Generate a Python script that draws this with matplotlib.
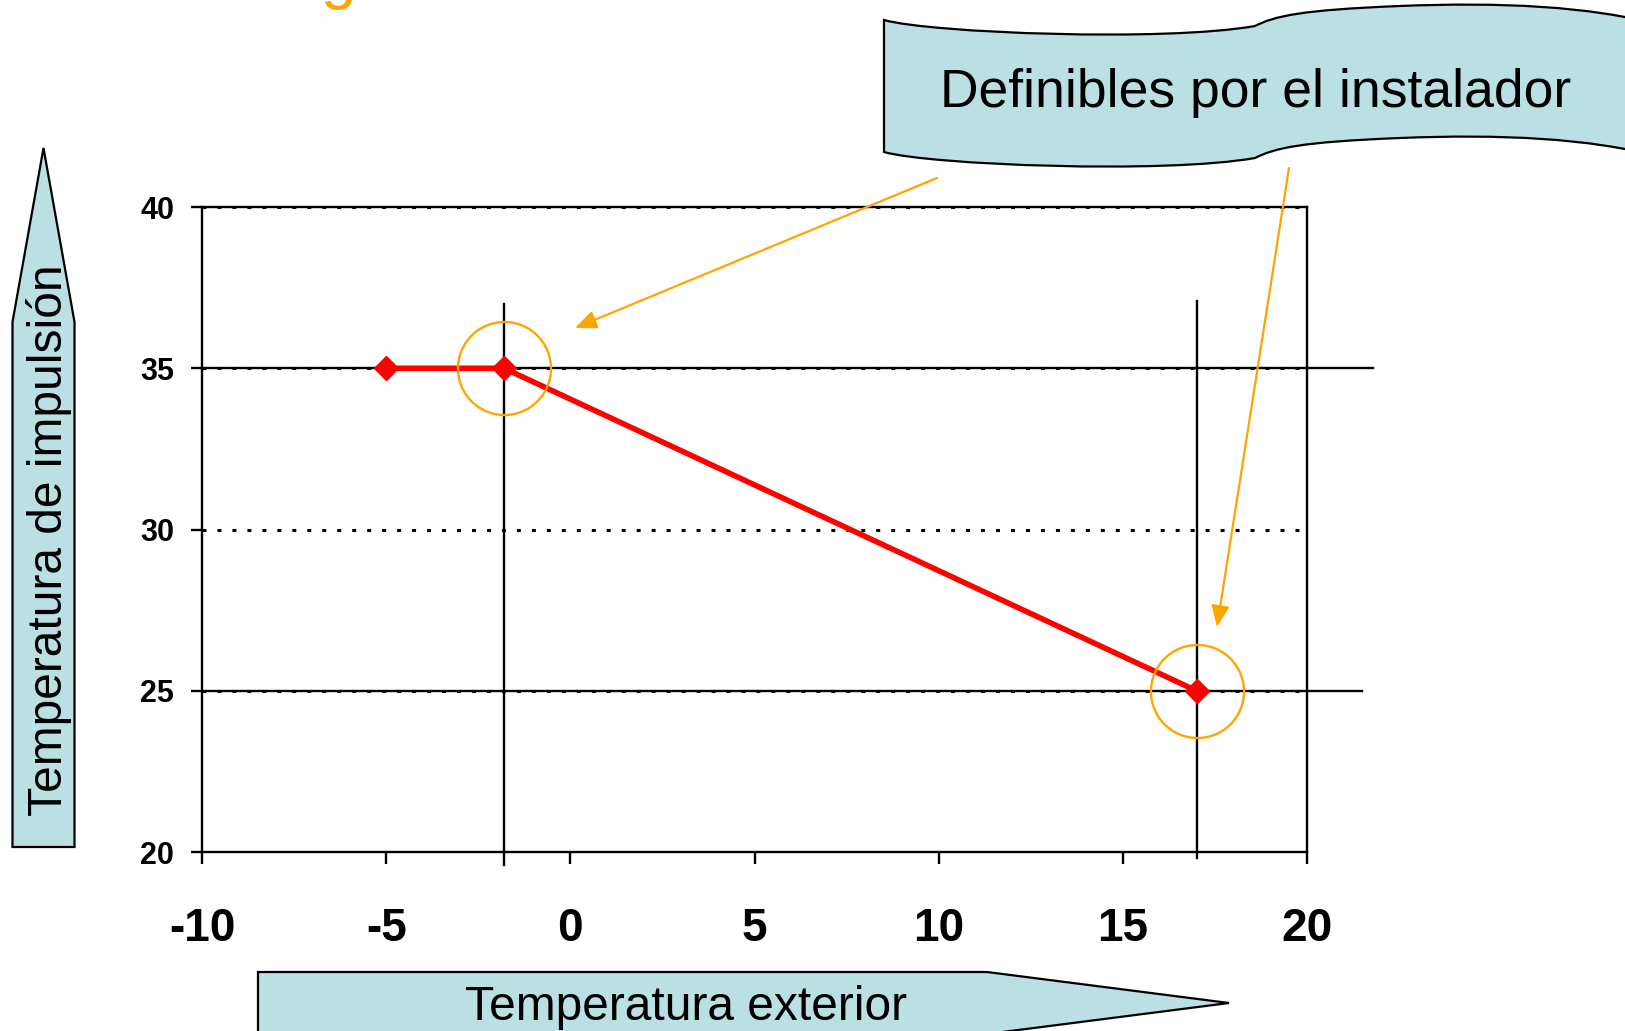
import matplotlib
matplotlib.use('Agg')
import matplotlib.pyplot as plt
from matplotlib.path import Path
from matplotlib.patches import PathPatch, Polygon, FancyArrowPatch

# Curve data: outdoor temp -> supply temp
temp_ext = [-5, -1.8, 17]
temp_imp = [35, 35, 25]

# points the installer can set (circled)
sel_x = [-1.8, 17]
sel_y = [35, 25]

# guide lines through the selectable points
guide_top = [37.0, 37.1]
guide_bottom = [19.6, 19.8]
guide_h_end = [21.8, 21.5]

x_ticks = [-10, -5, 0, 5, 10, 15, 20]
y_ticks = [20, 25, 30, 35, 40]

W, H = 1625, 1031
ORANGE = '#FFA500'
FILL = '#BAE0E3'

plt.rcParams['font.family'] = ['Liberation Sans', 'DejaVu Sans']

fig = plt.figure(figsize=(W / 100, H / 100), dpi=100)
fig.patch.set_facecolor('white')


def fp(x, y):
    # image pixel (top-left origin) -> figure fraction
    return (x / W, 1 - y / H)


ax = fig.add_axes([202 / W, 1 - 852 / H, (1307 - 202) / W, (852 - 207) / H])
ax.set_xlim(-10, 20)
ax.set_ylim(20, 40)

# grid
ax.set_axisbelow(True)
ax.yaxis.grid(True, color='black', linestyle=(0, (1.3, 3.6)), linewidth=2.2)
ax.axhline(40, color='#555555', linestyle=(0, (3, 1.5)), linewidth=1.2, zorder=1)

for s in ax.spines.values():
    s.set_color('black')
    s.set_linewidth(1.7)

# guide lines
for gx, gt, gb in zip(sel_x, guide_top, guide_bottom):
    ax.plot([gx, gx], [gb, gt], color='black', lw=1.7, clip_on=False, zorder=2)
for gy, ge in zip(sel_y, guide_h_end):
    ax.plot([-10, ge], [gy, gy], color='black', lw=1.7, clip_on=False, zorder=2)

# the curve
ax.plot(temp_ext, temp_imp, color='red', lw=4, marker='D', markersize=12,
        markerfacecolor='red', markeredgecolor='red', zorder=4, clip_on=False)

# orange circles
ax.plot(sel_x, sel_y, linestyle='none', marker='o', markersize=67,
        markerfacecolor='none', markeredgecolor=ORANGE, markeredgewidth=1.7,
        zorder=5, clip_on=False)

ax.set_xticks(x_ticks)
ax.set_xticklabels([str(v) for v in x_ticks], fontsize=33, fontweight='bold')
ax.set_yticks(y_ticks)
ax.set_yticklabels([str(v) for v in y_ticks], fontsize=22, fontweight='bold')
ax.tick_params(axis='x', direction='out', length=8.6, width=1.7, pad=31)
ax.tick_params(axis='y', direction='out', length=8, width=1.7, pad=12)

# partially visible title letter at the very top
fig.text(320 / W, 1 + 3 / H, 'g', color=ORANGE, fontsize=46,
         ha='left', va='baseline')

# wavy banner
top = [(884, 20), (930, 33), (1165, 42), (1255, 26),
       (1275, 16), (1300, 10), (1400, 6),
       (1500, 2), (1590, 6), (1660, 25)]
off = 132
bot = [(x, y + off) for x, y in top[::-1]]
verts = [fp(*p) for p in top] + [fp(*bot[0])] + [fp(*p) for p in bot[1:]] + [fp(*top[0])]
codes = ([Path.MOVETO] + [Path.CURVE4] * 9 + [Path.LINETO] + [Path.CURVE4] * 9
         + [Path.CLOSEPOLY])
banner = PathPatch(Path(verts, codes), facecolor=FILL, edgecolor='black', lw=1.6,
                   transform=fig.transFigure)
fig.add_artist(banner)
fig.text(1256 / W, 1 - 107 / H, 'Definibles por el instalador', fontsize=38.5,
         ha='center', va='baseline', color='black')

# vertical (y) arrow shape
y_arrow = [(12.5, 847), (12.5, 322), (43.5, 148), (74.5, 322), (74.5, 847)]
fig.add_artist(Polygon([fp(*p) for p in y_arrow], closed=True, facecolor=FILL,
                       edgecolor='black', lw=1.6, transform=fig.transFigure))
fig.text(62 / W, 1 - 540 / H, 'Temperatura de impulsión', fontsize=34.5,
         rotation=90, rotation_mode='anchor', ha='center', va='baseline')

# horizontal (x) arrow shape
x_arrow = [(258, 972), (987, 972), (1229, 1003), (987, 1034), (258, 1034)]
fig.add_artist(Polygon([fp(*p) for p in x_arrow], closed=True, facecolor=FILL,
                       edgecolor='black', lw=1.6, transform=fig.transFigure))
fig.text(686 / W, 1 - 1020 / H, 'Temperatura exterior', fontsize=34.5,
         ha='center', va='baseline')

# orange pointer arrows
for start, end in [((937, 178), (575, 328)), ((1289, 168), (1217, 627))]:
    arr = FancyArrowPatch(fp(*start), fp(*end), transform=fig.transFigure,
                          arrowstyle='-|>,head_length=1.3,head_width=0.55',
                          mutation_scale=10, color=ORANGE, lw=1.6,
                          shrinkA=0, shrinkB=0)
    fig.add_artist(arr)

fig.savefig('out.png', dpi=100)
